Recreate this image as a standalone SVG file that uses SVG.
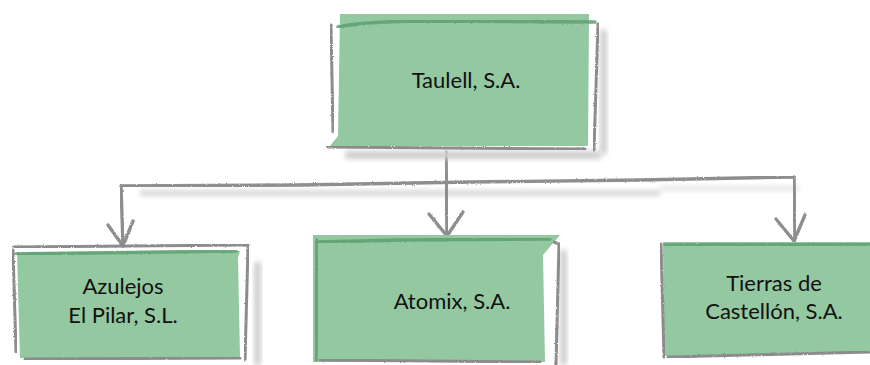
<svg xmlns="http://www.w3.org/2000/svg" width="870" height="365" viewBox="0 0 870 365">
  <defs>
    <filter id="pencil" x="-10%" y="-10%" width="120%" height="120%">
      <feTurbulence type="fractalNoise" baseFrequency="0.9" numOctaves="2" seed="3" result="n"/>
      <feDisplacementMap in="SourceGraphic" in2="n" scale="2.2" xChannelSelector="R" yChannelSelector="G"/>
    </filter>
    <filter id="soft" x="-20%" y="-50%" width="140%" height="200%">
      <feGaussianBlur stdDeviation="2.5"/>
    </filter>
  </defs>
  <style>
    .fill { fill: #93c8a0; }
    .edge { fill: none; stroke: #8c8c8c; stroke-width: 3; stroke-linecap: round; stroke-linejoin: round; filter: url(#pencil); }
    .rim { fill: none; stroke: #5f9f6f; stroke-width: 3.5; stroke-linecap: round; filter: url(#pencil); opacity: 0.85; }
    .shade { fill: #cfcfcf; filter: url(#soft); }
    .wire { fill: none; stroke: #8e8e8e; stroke-width: 3.4; stroke-linecap: round; stroke-linejoin: round; filter: url(#pencil); }
    .label { font-family: Lato, "Open Sans", "Liberation Sans", sans-serif; font-size: 22px; fill: #111; text-anchor: middle; }
  </style>
  <rect width="870" height="365" fill="#ffffff"/>

  <!-- connectors -->
  <g id="connectors">
    <rect class="shade" x="140" y="190" width="520" height="6" opacity="0.8"/>
    <rect class="shade" x="660" y="186" width="140" height="5" opacity="0.5"/>
    <path class="wire" d="M446 152 L447 234"/>
    <path class="wire" d="M121 186 L300 185 L470 182 L640 180 L794 177"/>
    <path class="wire" d="M121 186 L123 245"/>
    <path class="wire" d="M794 177 L795 240"/>
    <!-- arrowheads -->
    <path class="wire" d="M108 225 L123 246 L133 221"/>
    <path class="wire" d="M429 214 L447 236 L463 212"/>
    <path class="wire" d="M776 219 L794 241 L805 215"/>
  </g>

  <!-- Taulell, S.A. -->
  <g id="taulell">
    <rect class="shade" x="345" y="151" width="256" height="8"/>
    <rect class="shade" x="600" y="30" width="7" height="124"/>
    <path class="fill" d="M340 14 L589 14 L588 146 L330 146 L338 136 Z"/>
    <path class="rim" d="M338 27 Q360 22 420 21 L595 22"/>
    <path class="edge" d="M331 25 L333 132"/>
    <path class="edge" d="M598 24 L594 150"/>
    <path class="edge" d="M328 147 L585 149"/>
    <text class="label" x="466" y="88">Taulell, S.A.</text>
  </g>

  <!-- Azulejos El Pilar, S.L. -->
  <g id="azulejos">
    <rect class="shade" x="254" y="262" width="7" height="103"/>
    <path class="fill" d="M17 252 L240 251 L238 258 L240 358 L20 358 Z"/>
    <path class="rim" d="M16 254 L236 251"/>
    <path class="edge" d="M14 247 L248 245"/>
    <path class="edge" d="M13 250 L16 352"/>
    <path class="edge" d="M248 247 L245 360"/>
    <path class="edge" d="M25 359 L240 358"/>
    <text class="label" x="123" y="294">Azulejos</text>
    <text class="label" x="123" y="323">El Pilar, S.L.</text>
  </g>

  <!-- Atomix, S.A. -->
  <g id="atomix">
    <rect class="shade" x="560" y="250" width="7" height="115"/>
    <path class="fill" d="M313 235 L560 235 L543 255 L545 362 L313 362 Z"/>
    <path class="rim" d="M318 242 L400 240 L550 239"/>
    <path class="rim" d="M317 240 L316 360"/>
    <path class="edge" d="M554 242 L559 244 L556 365"/>
    <path class="edge" d="M320 360 L540 362"/>
    <text class="label" x="452" y="309">Atomix, S.A.</text>
  </g>

  <!-- Tierras de Castellón, S.A. -->
  <g id="tierras">
    <path class="fill" d="M663 242 L870 242 L870 352 L664 356 Z"/>
    <path class="rim" d="M665 245 L870 244"/>
    <path class="edge" d="M661 244 L664 357"/>
    <path class="edge" d="M668 357 L870 352"/>
    <text class="label" x="774" y="291">Tierras de</text>
    <text class="label" x="774" y="319">Castellón, S.A.</text>
  </g>
</svg>
